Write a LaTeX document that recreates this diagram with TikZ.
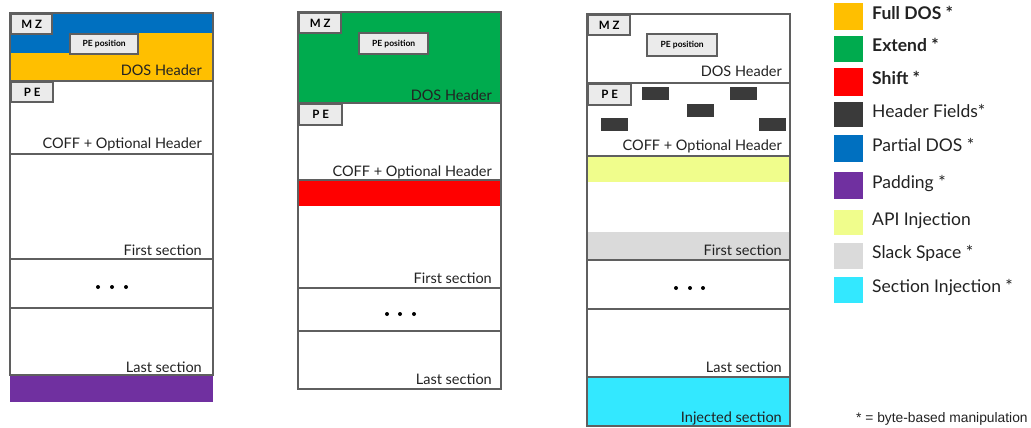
\documentclass[tikz,border=0pt]{standalone}
\usepackage{fontspec}
\setmainfont{Lato}
\newfontfamily\notefont{Liberation Sans}
\definecolor{fulldos}{HTML}{FFBF00}
\definecolor{extendgreen}{HTML}{00AB4E}
\definecolor{shiftred}{HTML}{FF0000}
\definecolor{hfields}{HTML}{3A3A3A}
\definecolor{partdos}{HTML}{0070C0}
\definecolor{padding}{HTML}{7030A0}
\definecolor{apiinj}{HTML}{F0FD8C}
\definecolor{slack}{HTML}{DADADA}
\definecolor{secinj}{HTML}{33E8FF}
\definecolor{framegray}{HTML}{5F5F5F}
\definecolor{taggray}{HTML}{EBEBEB}
\definecolor{textgray}{HTML}{222222}
\tikzset{
  frame/.style={draw=framegray,line width=2.4pt},
  tagbox/.style={draw=framegray,fill=taggray,line width=2.4pt,inner sep=0pt,anchor=north west,
    font=\bfseries\fontsize{11.5}{12}\selectfont},
  posbox/.style={tagbox,font=\bfseries\fontsize{8.5}{9}\selectfont},
  lbl/.style={inner sep=0pt,anchor=base east,text=textgray,font=\fontsize{14.5}{15}\selectfont},
  leg/.style={inner sep=0pt,anchor=mid west,text=textgray,font=\fontsize{17.5}{18}\selectfont},
}
\begin{document}
\begin{tikzpicture}[x=1pt,y=-1pt]
\useasboundingbox (0,0) rectangle (1031,428);

% Column 1: full and partial DOS, padding
\fill[fill=fulldos] (10,13) rectangle (213,81);
\fill[fill=partdos] (10,13) -- (213,13) -- (213,33) -- (69,33) -- (69,53) -- (10,53) -- cycle;
\fill[fill=padding] (10,375) rectangle (213,402);
\draw[frame] (10,13) rectangle (213,375);
\foreach \y in {81,154,259,308}
  \draw[frame] (10,\y) -- (213,\y);
\node[tagbox,minimum width=41pt,minimum height=20pt] (mzA) at (10,13) {M Z};
\node[posbox,minimum width=68pt,minimum height=20pt] (posA) at (69,33) {PE position};
\node[tagbox,minimum width=42pt,minimum height=20pt] (peA) at (10,81) {P E};
\node[lbl] (dosA) at (202,76) {DOS Header};
\node[lbl] (coffA) at (202,148) {COFF + Optional Header};
\node[lbl] (firstA) at (202,255) {First section};
\node[lbl] (lastA) at (202,372) {Last section};
\foreach \x in {98,112,126}
  \fill (\x,287) circle (2pt);

% Column 2: extend and shift
\fill[fill=extendgreen] (298,12) rectangle (501,103);
\fill[fill=shiftred] (298,180) rectangle (501,206);
\draw[frame] (298,12) rectangle (501,389);
\foreach \y in {103,180,288,331}
  \draw[frame] (298,\y) -- (501,\y);
\node[tagbox,minimum width=42pt,minimum height=20pt] (mzB) at (298,12) {M Z};
\node[posbox,minimum width=69pt,minimum height=21pt] (posB) at (358,32) {PE position};
\node[tagbox,minimum width=43pt,minimum height=21pt] (peB) at (298,103) {P E};
\node[lbl] (dosB) at (492,100) {DOS Header};
\node[lbl] (coffB) at (492,176) {COFF + Optional Header};
\node[lbl] (firstB) at (492,283) {First section};
\node[lbl] (lastB) at (492,384) {Last section};
\foreach \x in {387,400,414}
  \fill (\x,314) circle (2pt);

% Column 3: header fields, API, slack space, section injection
\fill[fill=apiinj] (587,156) rectangle (790,182);
\fill[fill=slack] (587,232) rectangle (790,260);
\fill[fill=secinj] (587,377) rectangle (790,426);
\draw[frame] (587,14) rectangle (790,426);
\foreach \y in {83,156,260,309,377}
  \draw[frame] (587,\y) -- (790,\y);
\foreach \x/\y in {642/87,730/87,687/104,601/118,759/118}
  \fill[fill=hfields] (\x,\y) rectangle ++(27,13);
\node[tagbox,minimum width=42pt,minimum height=20pt] (mzC) at (587,14) {M Z};
\node[posbox,minimum width=70pt,minimum height=22pt] (posC) at (646,33) {PE position};
\node[tagbox,minimum width=43pt,minimum height=21pt] (peC) at (587,83) {P E};
\node[lbl] (dosC) at (782,77) {DOS Header};
\node[lbl] (coffC) at (782,150) {COFF + Optional Header};
\node[lbl] (firstC) at (782,255) {First section};
\node[lbl] (lastC) at (782,372) {Last section};
\node[lbl] (injC) at (782,422) {Injected section};
\foreach \x in {676,690,703}
  \fill (\x,288) circle (2pt);

% Legend
\foreach \n/\ya/\yb/\c/\t in {1/3/30/fulldos/{\bfseries Full DOS *},
    2/36/62/extendgreen/{\bfseries Extend *},
    3/68/96/shiftred/{\bfseries Shift *},
    4/102/127/hfields/{Header Fields*},
    5/135/162/partdos/{Partial DOS *},
    6/172/199/padding/{Padding *},
    7/210/235/apiinj/{API Injection},
    8/243/269/slack/{Slack Space *},
    9/277/303/secinj/{Section Injection *}}{
  \fill[fill=\c] (834,\ya) rectangle (863,\yb);
  \node[leg] (leg\n) at (872,{(\ya+\yb)/2}) {\t};
}
\node[inner sep=0pt,anchor=base west,text=textgray,font=\notefont\fontsize{13.8}{14}\selectfont]
  (note) at (856,422) {* = byte-based manipulation};
\end{tikzpicture}
\end{document}
